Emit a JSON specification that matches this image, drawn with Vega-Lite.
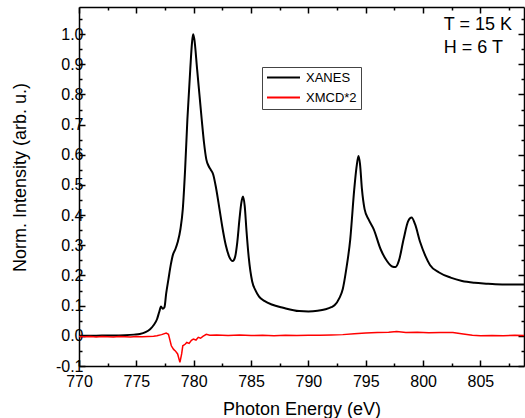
{
  "$schema": "https://vega.github.io/schema/vega-lite/v6.json",
  "width": 445,
  "height": 359,
  "autosize": {"type": "none"},
  "padding": {"left": 79, "top": 7, "right": 1, "bottom": 52},
  "background": "white",
  "config": {
    "view": {"stroke": null},
    "font": "Liberation Sans",
    "axis": {
      "domainColor": "black", "domainWidth": 1.5, "tickColor": "black", "tickWidth": 1.5,
      "grid": false, "labelColor": "black", "titleColor": "black",
      "labelFont": "Liberation Sans", "titleFont": "Liberation Sans",
      "labelFontSize": 16, "titleFontSize": 18, "titleFontWeight": "normal",
      "labelFlush": false, "labelOverlap": false
    }
  },
  "datasets": {
    "xanes": [
      {"E":770,"v":0.000,"s":"XANES"},{"E":771,"v":0.000,"s":"XANES"},{"E":772,"v":0.001,"s":"XANES"},{"E":773,"v":0.001,"s":"XANES"},
      {"E":774,"v":0.002,"s":"XANES"},{"E":774.8,"v":0.004,"s":"XANES"},{"E":775.3,"v":0.006,"s":"XANES"},{"E":775.8,"v":0.012,"s":"XANES"},
      {"E":776.2,"v":0.022,"s":"XANES"},{"E":776.5,"v":0.035,"s":"XANES"},{"E":776.8,"v":0.055,"s":"XANES"},{"E":777.0,"v":0.080,"s":"XANES"},
      {"E":777.15,"v":0.097,"s":"XANES"},{"E":777.3,"v":0.090,"s":"XANES"},{"E":777.45,"v":0.095,"s":"XANES"},{"E":777.6,"v":0.14,"s":"XANES"},
      {"E":777.8,"v":0.188,"s":"XANES"},{"E":778.0,"v":0.235,"s":"XANES"},{"E":778.2,"v":0.27,"s":"XANES"},{"E":778.4,"v":0.287,"s":"XANES"},
      {"E":778.6,"v":0.31,"s":"XANES"},{"E":778.85,"v":0.355,"s":"XANES"},{"E":779.05,"v":0.42,"s":"XANES"},{"E":779.25,"v":0.55,"s":"XANES"},
      {"E":779.45,"v":0.717,"s":"XANES"},{"E":779.7,"v":0.883,"s":"XANES"},{"E":779.85,"v":0.97,"s":"XANES"},{"E":779.95,"v":1.0,"s":"XANES"},
      {"E":780.05,"v":0.985,"s":"XANES"},{"E":780.3,"v":0.883,"s":"XANES"},{"E":780.5,"v":0.80,"s":"XANES"},{"E":780.7,"v":0.717,"s":"XANES"},
      {"E":780.9,"v":0.64,"s":"XANES"},{"E":781.1,"v":0.585,"s":"XANES"},{"E":781.3,"v":0.563,"s":"XANES"},{"E":781.5,"v":0.55,"s":"XANES"},
      {"E":781.7,"v":0.535,"s":"XANES"},{"E":781.95,"v":0.49,"s":"XANES"},{"E":782.25,"v":0.42,"s":"XANES"},{"E":782.5,"v":0.36,"s":"XANES"},
      {"E":782.8,"v":0.30,"s":"XANES"},{"E":783.1,"v":0.262,"s":"XANES"},{"E":783.4,"v":0.248,"s":"XANES"},{"E":783.6,"v":0.26,"s":"XANES"},
      {"E":783.8,"v":0.31,"s":"XANES"},{"E":784.0,"v":0.39,"s":"XANES"},{"E":784.15,"v":0.44,"s":"XANES"},{"E":784.3,"v":0.462,"s":"XANES"},
      {"E":784.45,"v":0.43,"s":"XANES"},{"E":784.6,"v":0.35,"s":"XANES"},{"E":784.8,"v":0.26,"s":"XANES"},{"E":785.1,"v":0.18,"s":"XANES"},
      {"E":785.4,"v":0.15,"s":"XANES"},{"E":785.7,"v":0.13,"s":"XANES"},{"E":786.2,"v":0.115,"s":"XANES"},{"E":786.8,"v":0.104,"s":"XANES"},
      {"E":787.8,"v":0.093,"s":"XANES"},{"E":789.2,"v":0.082,"s":"XANES"},{"E":790.0,"v":0.081,"s":"XANES"},{"E":790.8,"v":0.083,"s":"XANES"},
      {"E":791.5,"v":0.088,"s":"XANES"},{"E":792.0,"v":0.095,"s":"XANES"},{"E":792.3,"v":0.102,"s":"XANES"},{"E":792.7,"v":0.125,"s":"XANES"},
      {"E":793.0,"v":0.155,"s":"XANES"},{"E":793.3,"v":0.22,"s":"XANES"},{"E":793.65,"v":0.32,"s":"XANES"},{"E":794.0,"v":0.486,"s":"XANES"},
      {"E":794.2,"v":0.56,"s":"XANES"},{"E":794.37,"v":0.596,"s":"XANES"},{"E":794.5,"v":0.57,"s":"XANES"},{"E":794.67,"v":0.486,"s":"XANES"},
      {"E":794.9,"v":0.42,"s":"XANES"},{"E":795.25,"v":0.386,"s":"XANES"},{"E":795.7,"v":0.353,"s":"XANES"},{"E":796.3,"v":0.287,"s":"XANES"},
      {"E":796.85,"v":0.248,"s":"XANES"},{"E":797.3,"v":0.23,"s":"XANES"},{"E":797.6,"v":0.228,"s":"XANES"},{"E":797.9,"v":0.25,"s":"XANES"},
      {"E":798.3,"v":0.32,"s":"XANES"},{"E":798.7,"v":0.38,"s":"XANES"},{"E":799.0,"v":0.392,"s":"XANES"},{"E":799.3,"v":0.37,"s":"XANES"},
      {"E":799.75,"v":0.31,"s":"XANES"},{"E":800.2,"v":0.265,"s":"XANES"},{"E":800.6,"v":0.235,"s":"XANES"},{"E":801.4,"v":0.21,"s":"XANES"},
      {"E":802.4,"v":0.193,"s":"XANES"},{"E":803.4,"v":0.182,"s":"XANES"},{"E":804.5,"v":0.176,"s":"XANES"},{"E":805.5,"v":0.173,"s":"XANES"},
      {"E":806.3,"v":0.171,"s":"XANES"},{"E":807.5,"v":0.170,"s":"XANES"},{"E":808.8,"v":0.170,"s":"XANES"}
    ],
    "xmcd": [
      {"E":770,"v":-0.002,"s":"XMCD*2"},{"E":770.5,"v":-0.003,"s":"XMCD*2"},{"E":771,"v":-0.002,"s":"XMCD*2"},{"E":771.5,"v":-0.004,"s":"XMCD*2"},
      {"E":772,"v":-0.002,"s":"XMCD*2"},{"E":772.5,"v":-0.003,"s":"XMCD*2"},{"E":773,"v":-0.004,"s":"XMCD*2"},{"E":773.5,"v":-0.002,"s":"XMCD*2"},
      {"E":774,"v":-0.003,"s":"XMCD*2"},{"E":774.5,"v":-0.004,"s":"XMCD*2"},{"E":775,"v":-0.002,"s":"XMCD*2"},{"E":775.5,"v":-0.003,"s":"XMCD*2"},
      {"E":776,"v":-0.002,"s":"XMCD*2"},{"E":776.5,"v":-0.001,"s":"XMCD*2"},{"E":776.8,"v":0.0,"s":"XMCD*2"},{"E":777.2,"v":0.004,"s":"XMCD*2"},
      {"E":777.6,"v":0.009,"s":"XMCD*2"},{"E":777.8,"v":0.005,"s":"XMCD*2"},{"E":778.05,"v":-0.033,"s":"XMCD*2"},{"E":778.25,"v":-0.045,"s":"XMCD*2"},
      {"E":778.4,"v":-0.05,"s":"XMCD*2"},{"E":778.6,"v":-0.06,"s":"XMCD*2"},{"E":778.8,"v":-0.088,"s":"XMCD*2"},{"E":778.95,"v":-0.06,"s":"XMCD*2"},
      {"E":779.05,"v":-0.033,"s":"XMCD*2"},{"E":779.25,"v":-0.028,"s":"XMCD*2"},{"E":779.4,"v":-0.022,"s":"XMCD*2"},{"E":779.6,"v":-0.025,"s":"XMCD*2"},
      {"E":779.8,"v":-0.015,"s":"XMCD*2"},{"E":779.97,"v":-0.011,"s":"XMCD*2"},{"E":780.2,"v":-0.014,"s":"XMCD*2"},{"E":780.4,"v":-0.005,"s":"XMCD*2"},
      {"E":780.6,"v":-0.008,"s":"XMCD*2"},{"E":780.8,"v":-0.002,"s":"XMCD*2"},{"E":781.1,"v":0.005,"s":"XMCD*2"},{"E":781.4,"v":0.002,"s":"XMCD*2"},
      {"E":782,"v":0.003,"s":"XMCD*2"},{"E":783,"v":0.001,"s":"XMCD*2"},{"E":784,"v":0.003,"s":"XMCD*2"},{"E":785,"v":0.001,"s":"XMCD*2"},
      {"E":786,"v":0.002,"s":"XMCD*2"},{"E":787,"v":0.0,"s":"XMCD*2"},{"E":788,"v":0.002,"s":"XMCD*2"},{"E":789,"v":0.001,"s":"XMCD*2"},
      {"E":790,"v":0.002,"s":"XMCD*2"},{"E":791,"v":0.002,"s":"XMCD*2"},{"E":792,"v":0.003,"s":"XMCD*2"},{"E":793,"v":0.004,"s":"XMCD*2"},
      {"E":794,"v":0.007,"s":"XMCD*2"},{"E":795,"v":0.009,"s":"XMCD*2"},{"E":796,"v":0.011,"s":"XMCD*2"},{"E":797,"v":0.012,"s":"XMCD*2"},
      {"E":797.7,"v":0.014,"s":"XMCD*2"},{"E":798.5,"v":0.011,"s":"XMCD*2"},{"E":799.5,"v":0.012,"s":"XMCD*2"},{"E":800.5,"v":0.010,"s":"XMCD*2"},
      {"E":801.5,"v":0.011,"s":"XMCD*2"},{"E":802.6,"v":0.011,"s":"XMCD*2"},{"E":803.5,"v":0.006,"s":"XMCD*2"},{"E":804.3,"v":0.002,"s":"XMCD*2"},
      {"E":805,"v":0.0,"s":"XMCD*2"},{"E":806,"v":0.001,"s":"XMCD*2"},{"E":807,"v":0.0,"s":"XMCD*2"},{"E":808,"v":0.002,"s":"XMCD*2"},
      {"E":808.8,"v":0.001,"s":"XMCD*2"}
    ],
    "notes": [
      {"E":801.8,"v":1.013,"t":"T = 15 K"},
      {"E":801.8,"v":0.936,"t":"H = 6 T"}
    ]
  },
  "resolve": {"axis": {"x": "independent", "y": "independent"}},
  "layer": [
    {
      "data": {"name": "xanes"},
      "mark": {"type": "line", "strokeWidth": 2, "interpolate": "monotone", "clip": true},
      "encoding": {
        "x": {"field": "E", "type": "quantitative",
          "scale": {"domain": [770, 808.8], "nice": false, "zero": false},
          "axis": {"orient": "bottom", "title": "Photon Energy (eV)",
            "values": [770,772.5,775,777.5,780,782.5,785,787.5,790,792.5,795,797.5,800,802.5,805,807.5],
            "tickSize": {"condition": {"test": "round(datum.value*2) % 10 === 0", "value": -6}, "value": -3},
            "labelExpr": "round(datum.value*2) % 10 === 0 ? format(datum.value, 'd') : ''",
            "labelPadding": 13, "titleBaseline": "alphabetic", "titleY": 48}},
        "y": {"field": "v", "type": "quantitative",
          "scale": {"domain": [-0.1, 1.09], "nice": false, "zero": false},
          "axis": {"orient": "left", "title": "Norm. Intensity (arb. u.)",
            "values": [-0.1,-0.05,0,0.05,0.1,0.15,0.2,0.25,0.3,0.35,0.4,0.45,0.5,0.55,0.6,0.65,0.7,0.75,0.8,0.85,0.9,0.95,1.0,1.05],
            "tickSize": {"condition": {"test": "abs(round(datum.value*20)) % 2 === 0", "value": -6}, "value": -3},
            "labelExpr": "abs(round(datum.value*20)) % 2 === 0 ? (datum.value < 0 ? '-' + format(-datum.value, '.1f') : format(datum.value, '.1f')) : ''",
            "labelPadding": 2, "titleBaseline": "alphabetic", "titleX": -54, "titleY": 170}},
        "color": {"field": "s", "type": "nominal",
          "scale": {"domain": ["XANES", "XMCD*2"], "range": ["black", "#ff0000"]},
          "legend": {"title": null, "orient": "none", "legendX": 183, "legendY": 60,
            "symbolType": "stroke", "symbolSize": 1089, "symbolStrokeWidth": 2,
            "labelFont": "Liberation Sans", "labelFontSize": 13, "labelColor": "black",
            "strokeColor": "#444", "padding": 4, "clipHeight": 13, "rowPadding": 6, "labelOffset": 5}}
      }
    },
    {
      "data": {"name": "xmcd"},
      "mark": {"type": "line", "strokeWidth": 1.5, "clip": true},
      "encoding": {
        "x": {"field": "E", "type": "quantitative",
          "axis": {"orient": "top", "title": null, "labels": false,
            "values": [770,772.5,775,777.5,780,782.5,785,787.5,790,792.5,795,797.5,800,802.5,805,807.5],
            "tickSize": {"condition": {"test": "round(datum.value*2) % 10 === 0", "value": -6}, "value": -3}}},
        "y": {"field": "v", "type": "quantitative",
          "axis": {"orient": "right", "title": null, "labels": false,
            "values": [-0.1,-0.05,0,0.05,0.1,0.15,0.2,0.25,0.3,0.35,0.4,0.45,0.5,0.55,0.6,0.65,0.7,0.75,0.8,0.85,0.9,0.95,1.0,1.05],
            "tickSize": {"condition": {"test": "abs(round(datum.value*20)) % 2 === 0", "value": -6}, "value": -3}}},
        "color": {"field": "s", "type": "nominal"}
      }
    },
    {
      "data": {"name": "notes"},
      "mark": {"type": "text", "align": "left", "baseline": "alphabetic", "fontSize": 18, "font": "Liberation Sans", "color": "black"},
      "encoding": {
        "x": {"field": "E", "type": "quantitative", "axis": null},
        "y": {"field": "v", "type": "quantitative", "axis": null},
        "text": {"field": "t"}
      }
    }
  ]
}
